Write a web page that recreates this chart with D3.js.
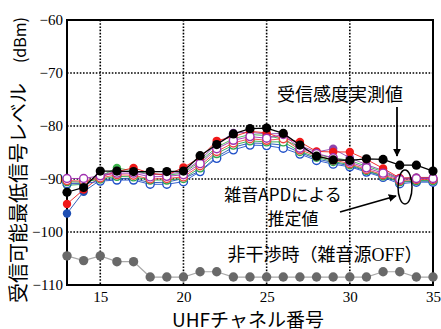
<!DOCTYPE html>
<html>
<head>
<meta charset="utf-8">
<script src="https://cdn.jsdelivr.net/npm/d3@7"></script>
<style>
  body { margin: 0; background: #fff; }
  svg { display: block; }
</style>
</head>
<body>
<svg id="chart" width="441" height="329"></svg>
<script>
// channels on the x axis
const channels = d3.range(13, 36);
const xTicks = [15, 20, 25, 30, 35];
const yTicks = [-60, -70, -80, -90, -100, -110];

// measured sensitivity (black)
const measured = [-92.5, -91.6, -88.5, -88.5, -88.6, -88.6, -88.6, -88.5, -85.6, -83.5, -81.5, -80.5, -80.4, -81.4, -83.6, -85.7, -86.4, -86.5, -86.2, -86.3, -87.4, -87.4, -88.5];
// no interference (gray)
const noNoise = [-104.5, -105.4, -104.5, -105.6, -105.6, -108.5, -108.5, -108.5, -107.5, -107.5, -108.5, -108.5, -108.5, -108.5, -108.5, -108.5, -108.5, -108.5, -108.5, -107.5, -107.5, -108.5, -108.5];

// estimates from noise APD, filled markers
const redFilled = [-94.7, -92.0, -89.6, -88.6, -87.9, -88.9, -89.3, -87.8, -86.0, -82.8, -82.0, -81.0, -81.3, -82.4, -83.0, -84.8, -84.9, -84.9, -86.3, -88.0, -89.8, -89.8, -89.8];
const blueFilled = [-96.5, -92.4, -90.2, -89.9, -89.9, -90.7, -90.6, -89.9, -88.5, -85.8, -84.0, -83.2, -83.3, -83.6, -85.0, -86.2, -86.9, -87.5, -88.5, -89.5, -90.6, -90.4, -90.4];
const greenFilled = [-91.2, -91.0, -89.5, -87.9, -88.5, -89.0, -89.3, -88.9, -86.7, -84.0, -82.4, -81.6, -81.8, -82.5, -84.0, -85.4, -86.0, -86.5, -87.6, -88.6, -90.0, -89.8, -89.8];
const purpleFilled = [-90.8, -90.8, -89.3, -88.5, -88.6, -89.2, -89.0, -88.7, -86.4, -83.4, -81.3, -81.2, -81.5, -81.4, -83.7, -84.9, -84.3, -86.0, -87.3, -88.4, -89.9, -89.7, -89.7];
// estimates from noise APD, open markers
const blueOpen = [-90.9, -90.9, -90.4, -90.2, -90.2, -91.0, -91.0, -90.5, -88.6, -86.1, -84.5, -83.6, -83.7, -84.2, -85.3, -86.5, -87.2, -87.7, -88.7, -89.7, -90.9, -90.6, -90.6];
const greenOpen = [-90.5, -90.6, -90.0, -89.5, -89.6, -90.2, -90.2, -89.9, -87.9, -85.2, -83.6, -82.8, -83.0, -83.0, -84.8, -85.9, -86.7, -87.3, -88.4, -89.4, -90.5, -90.3, -90.3];
const redOpen = [-90.3, -90.4, -89.8, -89.2, -89.3, -90.0, -89.9, -89.6, -87.5, -84.8, -83.2, -82.4, -82.7, -82.4, -84.5, -85.6, -86.4, -87.1, -88.2, -89.2, -90.3, -90.1, -90.1];
const purpleOpen = [-89.9, -89.9, -89.4, -88.9, -88.9, -89.6, -89.5, -89.2, -87.1, -84.3, -82.7, -82.0, -82.3, -81.6, -84.2, -85.2, -86.0, -86.8, -87.9, -88.9, -90.1, -89.9, -89.9];

const serif = "Liberation Serif, Times New Roman, DejaVu Serif, serif";
const jp = "Noto Sans CJK JP, Noto Sans, sans-serif";

const svg = d3.select("#chart");
const mLeft = 67, mRight = 433, mTop = 20, mBottom = 285;

const x = d3.scaleLinear().domain([13, 35]).range([mLeft, mRight]);
const y = d3.scaleLinear().domain([-110, -60]).range([mBottom, mTop]);

// grid
const grid = svg.append("g")
  .attr("stroke", "#000")
  .attr("stroke-width", 1.6)
  .attr("stroke-dasharray", "1.6,1.6");
grid.selectAll(".vg").data([15, 20, 25, 30]).enter().append("line")
  .attr("x1", d => x(d)).attr("x2", d => x(d))
  .attr("y1", mTop).attr("y2", mBottom);
grid.selectAll(".hg").data([-70, -80, -90, -100]).enter().append("line")
  .attr("x1", mLeft).attr("x2", mRight)
  .attr("y1", d => y(d)).attr("y2", d => y(d));

// frame
svg.append("rect")
  .attr("x", mLeft).attr("y", mTop)
  .attr("width", mRight - mLeft).attr("height", mBottom - mTop)
  .attr("fill", "none").attr("stroke", "#000").attr("stroke-width", 2);

// tick labels through d3 axes, lines hidden
const yAxis = svg.append("g")
  .attr("transform", `translate(${mLeft},0)`)
  .call(d3.axisLeft(y).tickValues(yTicks).tickSize(0).tickPadding(4));
const xAxis = svg.append("g")
  .attr("transform", `translate(0,${mBottom})`)
  .call(d3.axisBottom(x).tickValues(xTicks).tickSize(0).tickPadding(6));
[yAxis, xAxis].forEach(a => {
  a.select(".domain").remove();
  a.attr("font-family", null).attr("font-size", null);
  a.selectAll("text")
    .attr("font-family", serif)
    .attr("font-size", 15)
    .attr("fill", "#000");
});

const line = d3.line().x((d, i) => x(channels[i])).y(d => y(d));

function series(data, color, lineColor, filled, r, lw) {
  const g = svg.append("g");
  g.append("path")
    .attr("d", line(data))
    .attr("fill", "none")
    .attr("stroke", lineColor)
    .attr("stroke-width", lw);
  g.selectAll("circle").data(data).enter().append("circle")
    .attr("cx", (d, i) => x(channels[i]))
    .attr("cy", d => y(d))
    .attr("r", r)
    .attr("fill", filled ? color : "#fff")
    .attr("stroke", color)
    .attr("stroke-width", filled ? 0 : 1.4);
}

series(noNoise, "#696969", "#a8a8a8", true, 4.7, 1.2);

series(blueFilled, "#1f4fb4", "#1f4fb4", true, 4.2, 0.9);
series(greenFilled, "#3cb44b", "#3cb44b", true, 4.2, 0.9);
series(purpleFilled, "#8e44ad", "#8e44ad", true, 4.2, 0.9);
series(redFilled, "#f01818", "#f01818", true, 4.2, 0.9);
series(blueOpen, "#2050c8", "#2050c8", false, 4.0, 0.9);
series(greenOpen, "#2ea84a", "#2ea84a", false, 4.0, 0.9);
series(redOpen, "#f04040", "#f04040", false, 4.0, 0.9);
series(purpleOpen, "#a030b0", "#a030b0", false, 4.0, 0.9);
series(measured, "#000", "#000", true, 4.6, 1.3);

// annotations
svg.append("text")
  .attr("x", 340).attr("y", 101)
  .attr("text-anchor", "middle")
  .attr("font-family", jp).attr("font-size", 18)
  .text("受信感度実測値");

const defs = svg.append("defs");
defs.append("marker")
  .attr("id", "ah").attr("viewBox", "0 0 10 10")
  .attr("refX", 9).attr("refY", 5)
  .attr("markerWidth", 8).attr("markerHeight", 8)
  .attr("markerUnits", "userSpaceOnUse")
  .attr("orient", "auto")
  .append("path").attr("d", "M0,0L10,5L0,10z").attr("fill", "#000");

svg.append("line")
  .attr("x1", 397).attr("y1", 107).attr("x2", 397).attr("y2", 156)
  .attr("stroke", "#000").attr("stroke-width", 1.8)
  .attr("marker-end", "url(#ah)");

svg.append("text")
  .attr("x", 283).attr("y", 201)
  .attr("text-anchor", "middle")
  .attr("font-family", jp).attr("font-size", 17)
  .text("雑音APDによる");
svg.append("text")
  .attr("x", 293).attr("y", 225)
  .attr("text-anchor", "middle")
  .attr("font-family", jp).attr("font-size", 17)
  .text("推定値");

svg.append("ellipse")
  .attr("cx", 405).attr("cy", 187).attr("rx", 7).attr("ry", 17)
  .attr("fill", "none").attr("stroke", "#000").attr("stroke-width", 1.5);
svg.append("line")
  .attr("x1", 340).attr("y1", 212).attr("x2", 396).attr("y2", 196)
  .attr("stroke", "#000").attr("stroke-width", 1.8)
  .attr("marker-end", "url(#ah)");

const off = svg.append("text")
  .attr("x", 325).attr("y", 261)
  .attr("text-anchor", "middle")
  .attr("font-family", jp).attr("font-size", 18);
off.append("tspan").text("非干渉時（雑音源");
off.append("tspan").attr("font-family", serif).text("OFF");
off.append("tspan").text("）");

// axis titles
svg.append("text")
  .attr("x", 248).attr("y", 327)
  .attr("text-anchor", "middle")
  .attr("font-family", jp).attr("font-size", 19)
  .text("UHFチャネル番号");

const yt = svg.append("text")
  .attr("transform", "translate(26,160) rotate(-90)")
  .attr("text-anchor", "middle")
  .attr("font-family", jp).attr("font-size", 20);
yt.append("tspan").text("受信可能最低信号レベル　");
yt.append("tspan").attr("font-size", 16).text("(dBm)");
</script>
</body>
</html>
